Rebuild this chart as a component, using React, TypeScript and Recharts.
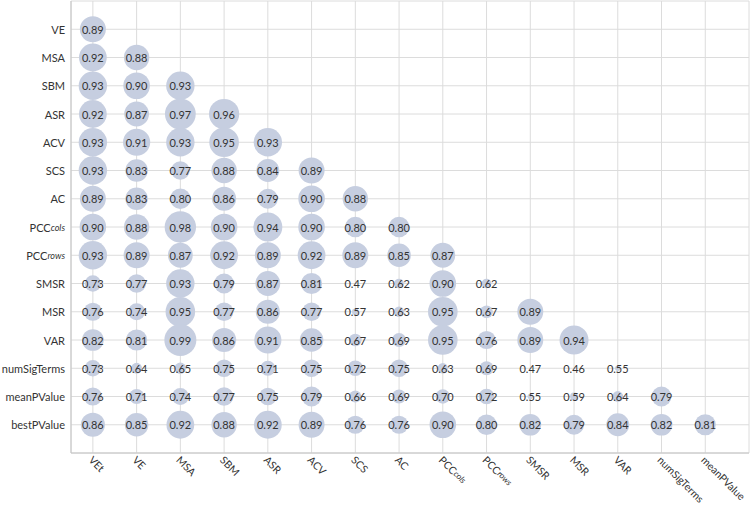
import React from 'react';
import { ScatterChart, Scatter, XAxis, YAxis, CartesianGrid } from 'recharts';

const COL_LABELS = [
    'VEt', 'VE', 'MSA', 'SBM', 'ASR', 'ACV', 'SCS', 'AC',
    'PCCcols', 'PCCrows', 'SMSR', 'MSR', 'VAR', 'numSigTerms', 'meanPValue',
];
const ROW_LABELS = [
    'VE', 'MSA', 'SBM', 'ASR', 'ACV', 'SCS', 'AC', 'PCCcols',
    'PCCrows', 'SMSR', 'MSR', 'VAR', 'numSigTerms', 'meanPValue', 'bestPValue',
];

// lower triangle, one array per row (row i has i + 1 values)
const VE = [0.89];
const MSA = [0.92, 0.88];
const SBM = [0.93, 0.90, 0.93];
const ASR = [0.92, 0.87, 0.97, 0.96];
const ACV = [0.93, 0.91, 0.93, 0.95, 0.93];
const SCS = [0.93, 0.83, 0.77, 0.88, 0.84, 0.89];
const AC = [0.89, 0.83, 0.80, 0.86, 0.79, 0.90, 0.88];
const PCC_COLS = [0.90, 0.88, 0.98, 0.90, 0.94, 0.90, 0.80, 0.80];
const PCC_ROWS = [0.93, 0.89, 0.87, 0.92, 0.89, 0.92, 0.89, 0.85, 0.87];
const SMSR = [0.73, 0.77, 0.93, 0.79, 0.87, 0.81, 0.47, 0.62, 0.90, 0.62];
const MSR = [0.76, 0.74, 0.95, 0.77, 0.86, 0.77, 0.57, 0.63, 0.95, 0.67, 0.89];
const VAR = [0.82, 0.81, 0.99, 0.86, 0.91, 0.85, 0.67, 0.69, 0.95, 0.76, 0.89, 0.94];
const NUM_SIG_TERMS = [0.73, 0.64, 0.65, 0.75, 0.71, 0.75, 0.72, 0.75, 0.63, 0.69, 0.47, 0.46, 0.55];
const MEAN_PVALUE = [0.76, 0.71, 0.74, 0.77, 0.75, 0.79, 0.66, 0.69, 0.70, 0.72, 0.55, 0.59, 0.64, 0.79];
const BEST_PVALUE = [0.86, 0.85, 0.92, 0.88, 0.92, 0.89, 0.76, 0.76, 0.90, 0.80, 0.82, 0.79, 0.84, 0.82, 0.81];

const ROWS = [
    VE, MSA, SBM, ASR, ACV, SCS, AC, PCC_COLS, PCC_ROWS,
    SMSR, MSR, VAR, NUM_SIG_TERMS, MEAN_PVALUE, BEST_PVALUE,
];

const N = ROW_LABELS.length;
const X_TICKS = Array.from({ length: N + 1 }, (_, i) => i + 1);
const Y_TICKS = Array.from({ length: N + 1 }, (_, i) => i + 1);

const points = ROWS.flatMap((vals, i) =>
    vals.map((value, j) => ({ x: j + 1, y: N - i, value }))
);

const FONT = 'Lato, "Open Sans", sans-serif';
const TEXT = '#333333';
const BUBBLE = '#c6cee0';
const GRID = '#dcdcdc';
const AXIS = '#c4c4c4';

// bubble radius grows with the value, fading out near 0.46
const R_MAX = 16;
const V_ZERO = 0.46;
const V_MAX = 0.99;

function LabelText({ label, x, y, anchor, transform, size = 11 }: any) {
    const m = /^PCC(cols|rows)$/.exec(label);
    return (
        <text x={x} y={y} textAnchor={anchor} dominantBaseline="central" transform={transform}
            fontFamily={FONT} fontSize={size} fill={TEXT}>
            {m ? (
                <>
                    PCC<tspan fontStyle="italic" fontSize={size - 2}>{m[1]}</tspan>
                </>
            ) : label}
        </text>
    );
}

function YTick({ x, y, payload }: any) {
    if (payload.value > N) return null;
    const label = ROW_LABELS[N - payload.value];
    return <LabelText label={label} x={x} y={y} anchor="end" />;
}

function XTick({ x, y, payload }: any) {
    if (payload.value > N) return null;
    const label = COL_LABELS[payload.value - 1];
    const ax = x - 2;
    const ay = y - 3;
    return <LabelText label={label} x={ax} y={ay} anchor="start" size={10.5}
        transform={`rotate(45 ${ax} ${ay})`} />;
}

function Bubble({ cx, cy, payload }: any) {
    const r = Math.max(0, R_MAX * (payload.value - V_ZERO) / (V_MAX - V_ZERO));
    return (
        <g>
            {r > 0 && <circle cx={cx} cy={cy} r={r} fill={BUBBLE} />}
            <text x={cx} y={cy} textAnchor="middle" dominantBaseline="central"
                fontFamily={FONT} fontSize={11} fill={TEXT}>
                {payload.value.toFixed(2)}
            </text>
        </g>
    );
}

export default function App() {
    return (
        <div style={{ position: 'absolute', left: 0, top: 0, width: 750, height: 507, background: '#fff' }}>
            <ScatterChart width={750} height={507} margin={{ top: 1, right: 1, bottom: 0, left: 0 }}>
                <CartesianGrid stroke={GRID} />
                <XAxis
                    type="number"
                    dataKey="x"
                    domain={[0.5, N + 1]}
                    ticks={X_TICKS}
                    interval={0}
                    height={54}
                    axisLine={{ stroke: AXIS }}
                    tickLine={false}
                    tick={<XTick />}
                />
                <YAxis
                    type="number"
                    dataKey="y"
                    domain={[0, N + 1]}
                    ticks={Y_TICKS}
                    interval={0}
                    width={71}
                    tickSize={4}
                    axisLine={{ stroke: AXIS }}
                    tickLine={false}
                    tick={<YTick />}
                />
                <Scatter data={points} shape={<Bubble />} isAnimationActive={false} />
            </ScatterChart>
        </div>
    );
}
